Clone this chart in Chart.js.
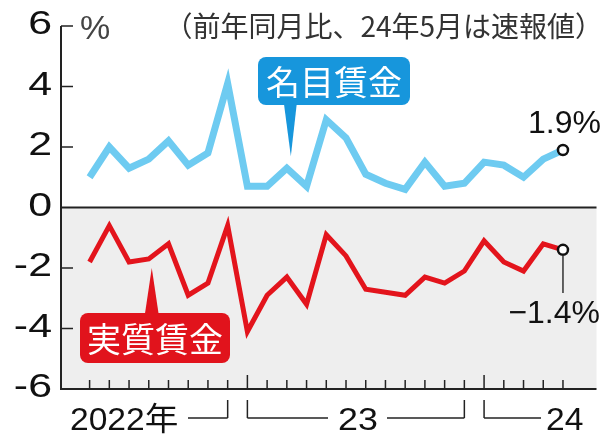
<!DOCTYPE html>
<html>
<head>
<meta charset="utf-8">
<script src="https://cdn.jsdelivr.net/npm/chart.js@4/dist/chart.umd.min.js"></script>
<style>
  body { margin: 0; background: #fff; }
  #wrap { width: 604px; height: 437px; position: relative; }
</style>
</head>
<body>
<div id="wrap"><canvas id="chart"></canvas></div>
<script>
// monthly, May 2022 - May 2024 (year-on-year %)
const months = ['2022-05','2022-06','2022-07','2022-08','2022-09','2022-10','2022-11','2022-12',
    '2023-01','2023-02','2023-03','2023-04','2023-05','2023-06','2023-07','2023-08','2023-09','2023-10','2023-11','2023-12',
    '2024-01','2024-02','2024-03','2024-04','2024-05'];
const nominal = [1.0, 2.0, 1.3, 1.6, 2.2, 1.4, 1.8, 4.1, 0.7, 0.7, 1.3, 0.7, 2.9, 2.3, 1.1, 0.8, 0.6, 1.5, 0.7, 0.8, 1.5, 1.4, 1.0, 1.6, 1.9];
const real = [-1.8, -0.6, -1.8, -1.7, -1.2, -2.9, -2.5, -0.6, -4.1, -2.9, -2.3, -3.2, -0.9, -1.6, -2.7, -2.8, -2.9, -2.3, -2.5, -2.1, -1.1, -1.8, -2.1, -1.2, -1.4];
const yTicks = [-6, -4, -2, 0, 2, 4, 6];
const yearLabels = ['2022年', '23', '24'];
const seriesNames = ['名目賃金', '実質賃金'];
const subtitle = '（前年同月比、24年5月は速報値）';

const last = months.length - 1;

function line(ctx, x1, y1, x2, y2) {
    ctx.beginPath();
    ctx.moveTo(x1, y1);
    ctx.lineTo(x2, y2);
    ctx.stroke();
}

function roundRect(ctx, x, y, w, h, r) {
    ctx.beginPath();
    ctx.moveTo(x + r, y);
    ctx.arcTo(x + w, y, x + w, y + h, r);
    ctx.arcTo(x + w, y + h, x, y + h, r);
    ctx.arcTo(x, y + h, x, y, r);
    ctx.arcTo(x, y, x + w, y, r);
    ctx.closePath();
    ctx.fill();
}

// wide-ish numerals like the print original
function wideText(ctx, text, x, y, sx) {
    ctx.save();
    ctx.translate(x, y);
    ctx.scale(sx, 1);
    ctx.fillText(text, 0, 0);
    ctx.restore();
}

const frame = {
    id: 'frame',
    beforeDatasetsDraw(chart) {
        const {ctx, chartArea: a, scales: {x, y}} = chart;
        const y0 = y.getPixelForValue(0);
        ctx.save();
        ctx.fillStyle = '#eeeeee';
        ctx.fillRect(a.left, y0, a.right - a.left, a.bottom - y0);

        ctx.strokeStyle = '#222';
        ctx.lineWidth = 1.5;
        yTicks.forEach(v => {
            if (v === 0 || v === -6) return;
            const py = y.getPixelForValue(v);
            line(ctx, a.left, py, a.left + 12, py);
        });
        months.forEach((m, i) => {
            const px = x.getPixelForValue(i);
            const len = m.endsWith('-01') ? 14 : 9;
            line(ctx, px, a.bottom, px, a.bottom - len);
        });
        ctx.lineWidth = 2;
        line(ctx, a.left, a.top, a.left, a.bottom + 1);
        line(ctx, a.left, a.bottom, a.right, a.bottom);
        line(ctx, a.left, y0, a.right, y0);

        // y tick labels from the scale
        ctx.fillStyle = '#111';
        ctx.font = '33px "Liberation Sans"';
        ctx.textAlign = 'right';
        ctx.textBaseline = 'middle';
        y.ticks.forEach(t => {
            wideText(ctx, String(t.value), a.left - 9, y.getPixelForValue(t.value) - 1, 1.3);
        });
        ctx.restore();
    },
    afterDatasetsDraw(chart) {
        const {ctx, chartArea: a, scales: {x, y}} = chart;
        ctx.save();

        // callout: nominal
        let tx = x.getPixelForValue(10) + 4, ty = y.getPixelForValue(nominal[10]) - 12;
        ctx.fillStyle = '#1796dc';
        roundRect(ctx, 258, 57, 152, 48, 8);
        ctx.beginPath();
        ctx.moveTo(tx - 7, 103); ctx.lineTo(tx + 6, 103); ctx.lineTo(tx, ty);
        ctx.fill();
        ctx.fillStyle = '#fff';
        ctx.font = '34px "Noto Sans CJK JP"';
        ctx.textAlign = 'center';
        ctx.textBaseline = 'middle';
        ctx.fillText(seriesNames[0], 334, 82);

        // callout: real
        tx = x.getPixelForValue(3) + 3; ty = y.getPixelForValue(real[3]) + 9;
        ctx.fillStyle = '#e1131c';
        roundRect(ctx, 80, 313, 150, 50, 8);
        ctx.beginPath();
        ctx.moveTo(tx - 7, 315); ctx.lineTo(tx + 7, 315); ctx.lineTo(tx, ty);
        ctx.fill();
        ctx.fillStyle = '#fff';
        ctx.fillText(seriesNames[1], 155, 339);

        // end values
        const ex = x.getPixelForValue(last);
        ctx.fillStyle = '#111';
        ctx.font = '32px "Liberation Sans"';
        ctx.textAlign = 'right';
        ctx.textBaseline = 'alphabetic';
        ctx.fillText(nominal[last].toFixed(1) + '%', 601, 133);
        ctx.fillText(real[last].toFixed(1).replace('-', '−') + '%', 600, 323);
        ctx.strokeStyle = '#333';
        ctx.lineWidth = 1.5;
        line(ctx, ex, y.getPixelForValue(real[last]) + 6, ex, 293);

        // unit and note
        ctx.textAlign = 'left';
        ctx.fillStyle = '#444';
        ctx.font = '34px "Liberation Sans"';
        ctx.fillText('%', 80, 39);
        ctx.textAlign = 'right';
        ctx.fillStyle = '#333';
        ctx.font = '28px "Noto Sans CJK JP"';
        ctx.fillText(subtitle, 603, 37);

        // year brackets
        const by = 418, bt = 400, tb = 430;
        const p = i => x.getPixelForValue(i);
        ctx.strokeStyle = '#222';
        ctx.lineWidth = 1.5;
        ctx.fillStyle = '#111';
        ctx.font = '32px "Liberation Sans", "Noto Sans CJK JP"';
        ctx.textAlign = 'left';
        wideText(ctx, yearLabels[0], 70, tb, 1.05);
        line(ctx, 188, by, p(7), by); line(ctx, p(7), by, p(7), bt);
        line(ctx, p(8), bt, p(8), by); line(ctx, p(8), by, 328, by);
        ctx.textAlign = 'center';
        wideText(ctx, yearLabels[1], 358, tb, 1.12);
        line(ctx, 387, by, p(19), by); line(ctx, p(19), by, p(19), bt);
        line(ctx, p(20), bt, p(20), by); line(ctx, p(20), by, 541, by);
        ctx.textAlign = 'left';
        wideText(ctx, yearLabels[2], 546, tb, 1.05);
        ctx.restore();
    }
};

const endRadius = arr => arr.map((v, i) => i === last ? 5 : 0);

new Chart(document.getElementById('chart'), {
    type: 'line',
    data: {
        datasets: [{
            label: seriesNames[0],
            data: nominal.map((v, i) => ({x: i, y: v})),
            borderColor: '#6ecbf1',
            borderWidth: 7,
            pointRadius: endRadius(nominal),
            pointBackgroundColor: '#fff',
            pointBorderColor: '#111',
            pointBorderWidth: 2.5,
            tension: 0
        }, {
            label: seriesNames[1],
            data: real.map((v, i) => ({x: i, y: v})),
            borderColor: '#e3141c',
            borderWidth: 5,
            pointRadius: endRadius(real),
            pointBackgroundColor: '#fff',
            pointBorderColor: '#111',
            pointBorderWidth: 2.5,
            tension: 0
        }]
    },
    options: {
        responsive: true,
        maintainAspectRatio: false,
        animation: false,
        layout: {padding: {top: 26, bottom: 48, left: 0, right: 0}},
        plugins: {legend: {display: false}, tooltip: {enabled: false}},
        scales: {
            x: {type: 'linear', min: -1.45, max: 25.7, display: false},
            y: {
                min: -6, max: 6,
                afterFit: s => { s.width = 61; },
                afterBuildTicks: s => { s.ticks = yTicks.map(v => ({value: v})); },
                grid: {display: false, drawTicks: false},
                border: {display: false},
                ticks: {display: false}
            }
        }
    },
    plugins: [frame]
});
</script>
</body>
</html>
